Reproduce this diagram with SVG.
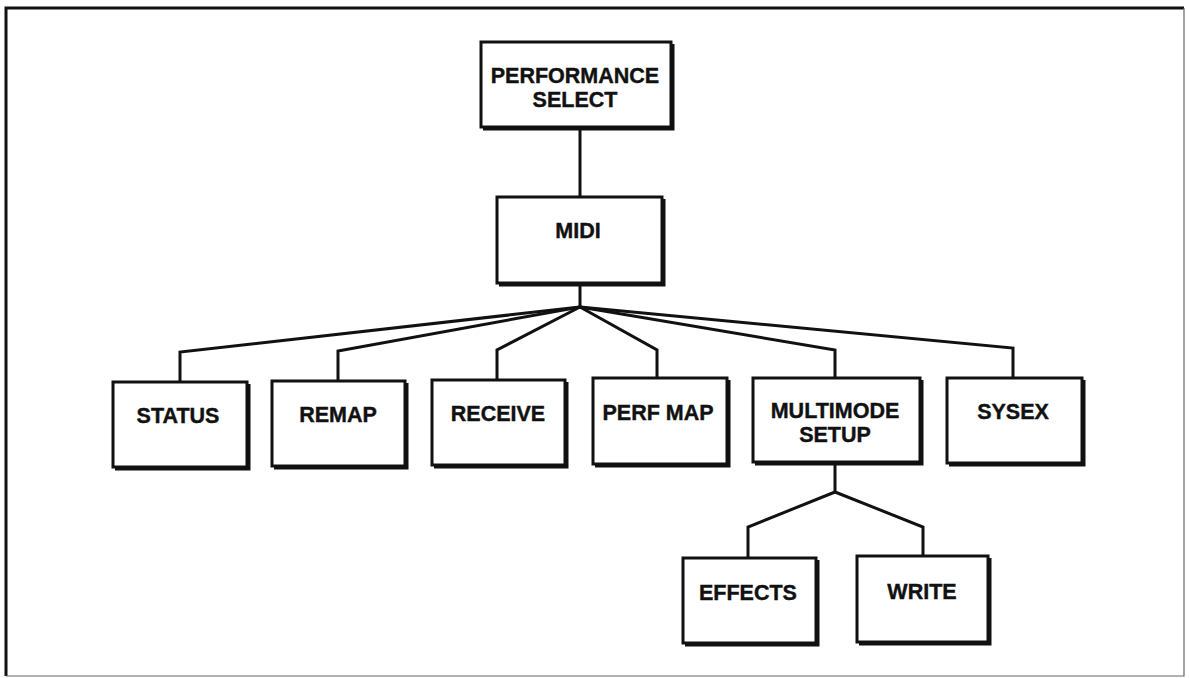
<svg xmlns="http://www.w3.org/2000/svg" width="1189" height="678" viewBox="0 0 1189 678">
  <style>
    .box { fill: #fff; stroke: #111; stroke-width: 3; }
    .shade { fill: none; stroke: #111; stroke-width: 3; stroke-linejoin: miter; }
    .lbl { font-family: "Liberation Sans", Arial, sans-serif; font-weight: bold; font-size: 21.5px; fill: #111; text-anchor: middle; stroke: #111; stroke-width: 0.4; }
    .wire { fill: none; stroke: #111; stroke-width: 3; stroke-linejoin: miter; }
  </style>
  <rect width="1189" height="678" fill="#fff"/>

  <!-- page frame: heavy top/left, light right/bottom -->
  <g id="frame">
    <path d="M6 676 V8 H1184" fill="none" stroke="#111" stroke-width="3"/>
    <path d="M1184 8 V676 H6" fill="none" stroke="#666" stroke-width="1.2"/>
  </g>

  <!-- connectors -->
  <g id="connectors" class="wire">
    <path d="M580 127 V197"/>
    <path d="M580 283 V307"/>
    <path d="M580 307 L180 352 V382"/>
    <path d="M580 307 L338 351 V381"/>
    <path d="M580 307 L497 350 V380"/>
    <path d="M580 307 L657 350 V378"/>
    <path d="M580 307 L835 350 V378"/>
    <path d="M580 307 L1013 348 V378"/>
    <path d="M835 462 V492"/>
    <path d="M835 492 L748 527 V558"/>
    <path d="M835 492 L923 527 V556"/>
  </g>

  <g id="performance-select">
    <rect class="box" x="481" y="42" width="190" height="85"/>
    <path class="shade" d="M673 44 V129 H483"/>
    <text class="lbl" x="575" y="83">PERFORMANCE</text>
    <text class="lbl" x="575" y="107">SELECT</text>
  </g>

  <g id="midi">
    <rect class="box" x="497" y="197" width="165" height="86"/>
    <path class="shade" d="M664 199 V285 H499"/>
    <text class="lbl" x="578" y="238">MIDI</text>
  </g>

  <g id="status">
    <rect class="box" x="113" y="382" width="134" height="85"/>
    <path class="shade" d="M249 384 V469 H115"/>
    <text class="lbl" x="178" y="423">STATUS</text>
  </g>

  <g id="remap">
    <rect class="box" x="272" y="381" width="133" height="85"/>
    <path class="shade" d="M407 383 V468 H274"/>
    <text class="lbl" x="338" y="422">REMAP</text>
  </g>

  <g id="receive">
    <rect class="box" x="432" y="380" width="133" height="85"/>
    <path class="shade" d="M567 382 V467 H434"/>
    <text class="lbl" x="498" y="421">RECEIVE</text>
  </g>

  <g id="perf-map">
    <rect class="box" x="593" y="378" width="134" height="86"/>
    <path class="shade" d="M729 380 V466 H595"/>
    <text class="lbl" x="658" y="420">PERF MAP</text>
  </g>

  <g id="multimode-setup">
    <rect class="box" x="753" y="378" width="167" height="84"/>
    <path class="shade" d="M922 380 V464 H755"/>
    <text class="lbl" x="835" y="418">MULTIMODE</text>
    <text class="lbl" x="835" y="442">SETUP</text>
  </g>

  <g id="sysex">
    <rect class="box" x="947" y="378" width="135" height="85"/>
    <path class="shade" d="M1084 380 V465 H949"/>
    <text class="lbl" x="1013" y="419">SYSEX</text>
  </g>

  <g id="effects">
    <rect class="box" x="683" y="558" width="133" height="85"/>
    <path class="shade" d="M818 560 V645 H685"/>
    <text class="lbl" x="748" y="600">EFFECTS</text>
  </g>

  <g id="write">
    <rect class="box" x="857" y="556" width="131" height="86"/>
    <path class="shade" d="M990 558 V644 H859"/>
    <text class="lbl" x="922" y="599">WRITE</text>
  </g>
</svg>
